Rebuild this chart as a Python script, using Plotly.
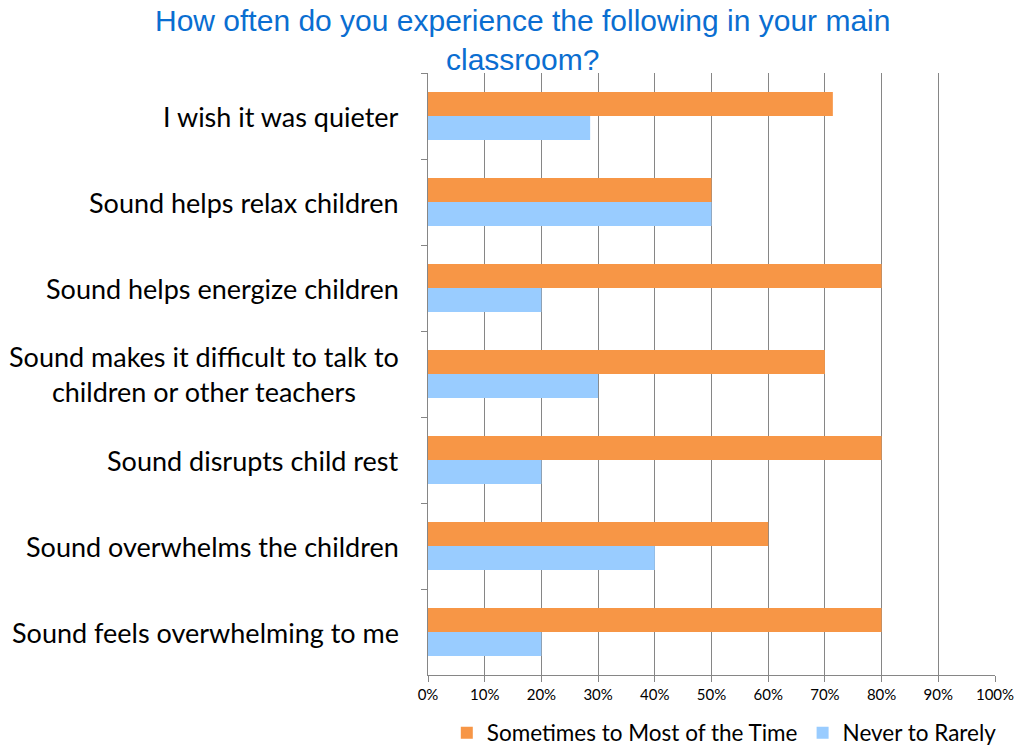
import plotly.graph_objects as go

# Survey statements, top to bottom
categories = [
    "I wish it was quieter",
    "Sound helps relax children",
    "Sound helps energize children",
    "Sound makes it difficult to talk to<br>children or other teachers",
    "Sound disrupts child rest",
    "Sound overwhelms the children",
    "Sound feels overwhelming to me",
]
sometimes_most = [0.714, 0.50, 0.80, 0.70, 0.80, 0.60, 0.80]
never_rarely = [0.286, 0.50, 0.20, 0.30, 0.20, 0.40, 0.20]
x_ticks = [i / 10 for i in range(11)]
x_tick_labels = [f"{i * 10}%" for i in range(11)]
title_text = "How often do you experience the following in your main<br>classroom?"

ORANGE = "#F79646"
BLUE = "#99CCFF"
GRID = "#868686"
LABEL_FONT = "Lato, Open Sans, sans-serif"

# Plot area in pixels
PLOT_L, PLOT_R, PLOT_T, PLOT_B = 428, 995, 73, 675
PLOT_W, PLOT_H = PLOT_R - PLOT_L, PLOT_B - PLOT_T

fig = go.Figure()
fig.add_trace(go.Bar(
    y=categories, x=sometimes_most, orientation="h",
    name="Sometimes to Most of the Time", marker=dict(color=ORANGE, line=dict(width=0)),
))
fig.add_trace(go.Bar(
    y=categories, x=never_rarely, orientation="h",
    name="Never to Rarely", marker=dict(color=BLUE, line=dict(width=0)),
))

# Category labels, centred within a right-aligned block
for cat in categories:
    fig.add_annotation(
        x=0, xref="paper", xanchor="right", xshift=-27,
        y=cat, yref="y", yanchor="middle",
        text=cat, showarrow=False, align="center",
        font=dict(family=LABEL_FONT, size=27, color="#000000"),
    )

# Chart title
fig.add_annotation(
    x=(522 - PLOT_L) / PLOT_W, xref="paper", xanchor="center",
    y=1 + (PLOT_T - 2) / PLOT_H, yref="paper", yanchor="top",
    text=title_text, showarrow=False, align="center",
    font=dict(family="Liberation Sans, Arial, sans-serif", size=30, color="#0A6ED1"),
)

fig.update_layout(
    width=1016, height=746,
    margin=dict(l=PLOT_L, r=1016 - PLOT_R, t=PLOT_T, b=746 - PLOT_B, autoexpand=False),
    paper_bgcolor="white", plot_bgcolor="white",
    barmode="group", bargap=0.44, bargroupgap=0,
    xaxis=dict(
        range=[0, 1], tickvals=x_ticks, ticktext=x_tick_labels,
        showgrid=True, gridcolor=GRID, gridwidth=1,
        showline=True, linecolor=GRID, linewidth=1,
        ticks="outside", ticklen=6, tickcolor=GRID,
        tickfont=dict(family=LABEL_FONT, size=15, color="#000000"),
        zeroline=False, fixedrange=True,
    ),
    yaxis=dict(
        autorange="reversed", showticklabels=False,
        showline=True, linecolor=GRID, linewidth=1,
        ticks="outside", ticklen=6, tickcolor=GRID, tickson="boundaries",
        showgrid=False, fixedrange=True,
    ),
    legend=dict(
        orientation="h", x=1.012, xanchor="right",
        y=-(733 - PLOT_B) / PLOT_H, yanchor="middle",
        font=dict(family=LABEL_FONT, size=22.5, color="#000000"),
        itemwidth=30, tracegroupgap=0,
    ),
    showlegend=True,
)

fig.write_html("out.html")
